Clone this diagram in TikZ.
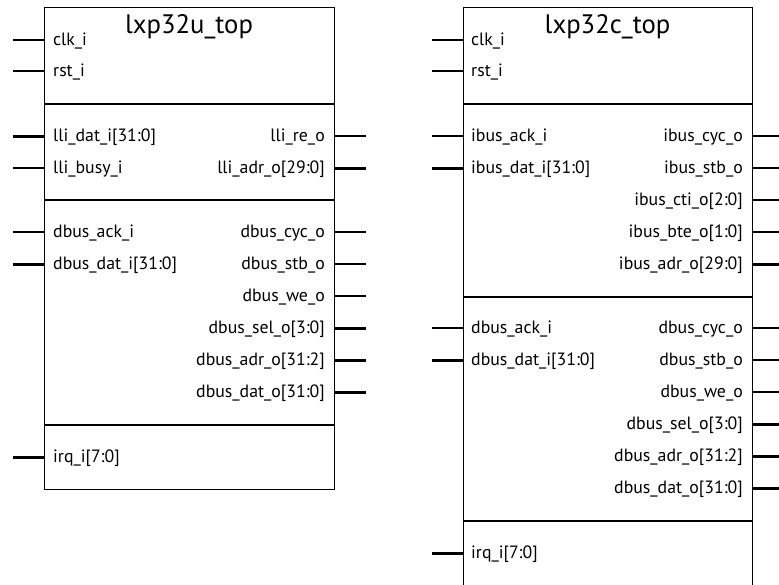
\documentclass[tikz,border=0pt]{standalone}
\usepackage{fontspec}
\setmainfont{PT Sans}
\begin{document}
\begin{tikzpicture}[x=1pt,y=-1pt,
  blk/.style={draw, line width=1.4pt, inner sep=0pt, anchor=north west},
  sep/.style={line width=1.4pt},
  thin/.style={line width=1.3pt},
  bus/.style={line width=3pt},
  lbl/.style={inner sep=0pt, font=\fontsize{17.8}{20}\selectfont},
  ttl/.style={inner sep=0pt, anchor=base, font=\fontsize{26.7}{30}\selectfont}]
\useasboundingbox (0,0) rectangle (779,584);
% ---------- lxp32u_top ----------
\node[blk, minimum width=290pt, minimum height=482pt] (U) at (44,7) {};
\node[ttl] (Ut) at (189,33) {lxp32u\_top};
\foreach \y in {104,200,425} \draw[sep] (U.west |- 0,\y) -- (U.east |- 0,\y);
\foreach \y/\t/\s [count=\i] in {40/clk\_i/thin, 71/rst\_i/thin, 136/lli\_dat\_i[31:0]/bus, 168/lli\_busy\_i/thin, 232/dbus\_ack\_i/thin, 264/dbus\_dat\_i[31:0]/bus, 457/irq\_i[7:0]/bus}{
  \coordinate (ULp\i) at (13,\y);
  \draw[\s] (U.west |- ULp\i) -- (ULp\i);
  \node[lbl, anchor=base west] (ULl\i) at (53,\y+5.5) {\t};
}
\foreach \y/\t/\s [count=\i] in {136/lli\_re\_o/thin, 168/lli\_adr\_o[29:0]/bus, 232/dbus\_cyc\_o/thin, 264/dbus\_stb\_o/thin, 296/dbus\_we\_o/thin, 328/dbus\_sel\_o[3:0]/bus, 360/dbus\_adr\_o[31:2]/bus, 392/dbus\_dat\_o[31:0]/bus}{
  \coordinate (URp\i) at (366,\y);
  \draw[\s] (U.east |- URp\i) -- (URp\i);
  \node[lbl, anchor=base east] (URl\i) at (325,\y+5.5) {\t};
}
% ---------- lxp32c_top ----------
\node[blk, minimum width=289pt, minimum height=579pt] (C) at (463,7) {};
\node[ttl] (Ct) at (607.5,33) {lxp32c\_top};
\foreach \y in {104,297,521} \draw[sep] (C.west |- 0,\y) -- (C.east |- 0,\y);
\foreach \y/\t/\s [count=\i] in {40/clk\_i/thin, 71/rst\_i/thin, 136/ibus\_ack\_i/thin, 168/ibus\_dat\_i[31:0]/bus, 328/dbus\_ack\_i/thin, 360/dbus\_dat\_i[31:0]/bus, 553/irq\_i[7:0]/bus}{
  \coordinate (CLp\i) at (432,\y);
  \draw[\s] (C.west |- CLp\i) -- (CLp\i);
  \node[lbl, anchor=base west] (CLl\i) at (471,\y+5.5) {\t};
}
\foreach \y/\t/\s [count=\i] in {136/ibus\_cyc\_o/thin, 168/ibus\_stb\_o/thin, 200/ibus\_cti\_o[2:0]/thin, 232/ibus\_bte\_o[1:0]/thin, 264/ibus\_adr\_o[29:0]/bus, 328/dbus\_cyc\_o/thin, 360/dbus\_stb\_o/thin, 392/dbus\_we\_o/thin, 424/dbus\_sel\_o[3:0]/bus, 456/dbus\_adr\_o[31:2]/bus, 488/dbus\_dat\_o[31:0]/bus}{
  \coordinate (CRp\i) at (784,\y);
  \draw[\s] (C.east |- CRp\i) -- (CRp\i);
  \node[lbl, anchor=base east] (CRl\i) at (743,\y+5.5) {\t};
}
\end{tikzpicture}
\end{document}
